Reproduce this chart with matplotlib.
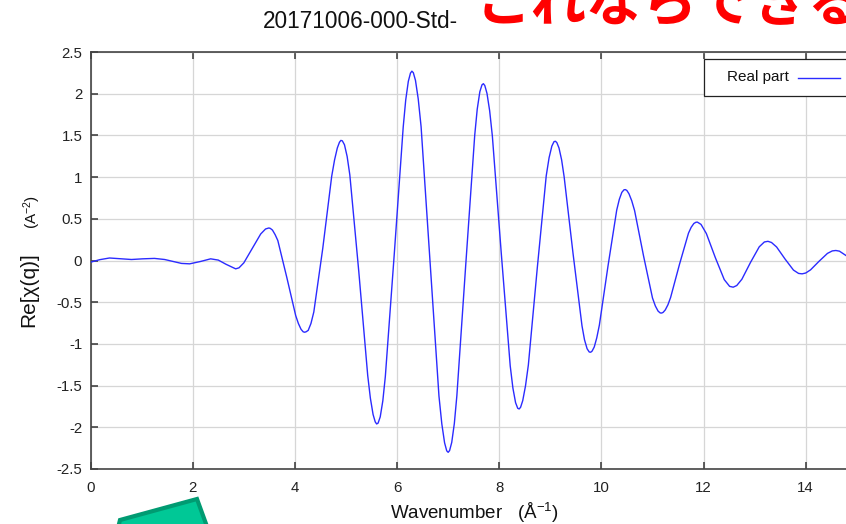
import matplotlib
matplotlib.use("Agg")
import matplotlib.pyplot as plt
from matplotlib.patches import Polygon, Rectangle
from matplotlib.lines import Line2D

# Real part of chi(q) against wavenumber (1/Angstrom)
wavenumber = [
    0.00, 0.18, 0.37, 0.60, 0.80, 1.02, 1.25, 1.45, 1.62, 1.78, 1.94, 2.15,
    2.35, 2.50, 2.65, 2.84,
    2.905, 3.00, 3.165, 3.33, 3.425, 3.49,
    3.518, 3.56, 3.6125, 3.665, 3.84, 4.015, 4.0675, 4.12, 4.162, 4.19,
    4.218, 4.26, 4.314, 4.37, 4.545, 4.72, 4.776, 4.83, 4.872, 4.90,
    4.928, 4.97, 5.0225, 5.075, 5.25, 5.425, 5.4775, 5.53, 5.572, 5.60,
    5.628, 5.67, 5.7208, 5.77, 5.945, 6.12, 6.169, 6.22, 6.262, 6.29,
    6.318, 6.36, 6.414, 6.47, 6.645, 6.82, 6.876, 6.93, 6.972, 7.00,
    7.028, 7.07, 7.121, 7.17, 7.345, 7.52, 7.569, 7.62, 7.662, 7.69,
    7.718, 7.76, 7.8125, 7.865, 8.04, 8.215, 8.2675, 8.32, 8.362, 8.39,
    8.418, 8.46, 8.514, 8.57, 8.745, 8.92, 8.976, 9.03, 9.072, 9.10,
    9.128, 9.17, 9.221, 9.27, 9.445, 9.62, 9.669, 9.72, 9.762, 9.79,
    9.817, 9.86, 9.909, 9.96, 10.13, 10.30, 10.351, 10.40, 10.443, 10.47,
    10.498, 10.54, 10.594, 10.65, 10.825, 11.00, 11.056, 11.11, 11.152, 11.18,
    11.208, 11.25, 11.3025, 11.355, 11.53, 11.705, 11.7575, 11.81, 11.852, 11.88,
    11.95, 12.055, 12.23, 12.405, 12.51, 12.58,
    12.65, 12.75, 12.92, 13.09, 13.19, 13.26,
    13.33, 13.43, 13.595, 13.76, 13.86, 13.93,
    14.00, 14.095, 14.26, 14.425, 14.52, 14.59,
    14.66, 14.80,
]
real_part = [
    -0.02, 0.01, 0.03, 0.02, 0.012, 0.02, 0.025, 0.012, -0.012, -0.035, -0.04, -0.012,
    0.02, 0.005, -0.045, -0.10,
    -0.088, -0.028, 0.145, 0.318, 0.378, 0.39,
    0.385, 0.365, 0.31, 0.24, -0.20, -0.66, -0.755, -0.825, -0.855, -0.86,
    -0.855, -0.838, -0.755, -0.617, 0.145, 1.01, 1.206, 1.349, 1.418, 1.44,
    1.435, 1.388, 1.247, 1.026, -0.13, -1.378, -1.652, -1.846, -1.935, -1.96,
    -1.95, -1.875, -1.683, -1.391, 0.078, 1.60, 1.924, 2.148, 2.247, 2.27,
    2.252, 2.16, 1.937, 1.605, -0.01, -1.626, -1.96, -2.186, -2.282, -2.30,
    -2.279, -2.181, -1.954, -1.624, -0.045, 1.502, 1.814, 2.023, 2.106, 2.12,
    2.097, 2.004, 1.795, 1.494, 0.085, -1.264, -1.53, -1.705, -1.772, -1.78,
    -1.76, -1.68, -1.504, -1.253, -0.088, 1.016, 1.233, 1.372, 1.425, 1.43,
    1.413, 1.349, 1.207, 1.006, 0.083, -0.783, -0.95, -1.058, -1.097, -1.10,
    -1.087, -1.037, -0.928, -0.775, -0.063, 0.605, 0.734, 0.817, 0.848, 0.85,
    0.84, 0.80, 0.716, 0.598, 0.055, -0.449, -0.545, -0.607, -0.629, -0.63,
    -0.622, -0.593, -0.531, -0.443, -0.043, 0.328, 0.398, 0.444, 0.459, 0.46,
    0.433, 0.323, 0.035, -0.229, -0.31, -0.32,
    -0.30, -0.225, -0.022, 0.164, 0.222, 0.23,
    0.216, 0.162, 0.018, -0.115, -0.155, -0.16,
    -0.15, -0.112, -0.01, 0.085, 0.115, 0.12,
    0.112, 0.055,
]

x_ticks = [0, 2, 4, 6, 8, 10, 12, 14]
y_ticks = [-2.5, -2, -1.5, -1, -0.5, 0, 0.5, 1, 1.5, 2, 2.5]
y_tick_labels = ["-2.5", "-2", "-1.5", "-1", "-0.5", "0", "0.5", "1", "1.5", "2", "2.5"]
x_range = (0, 15)
y_range = (-2.5, 2.5)

title_text = "20171006-000-Std-"
note_text = "これならできる"
series_label = "Real part"
x_label = r"Wavenumber   (Å$^{-1}$)"
y_label_main = "Re[χ(q)]"
y_label_unit = r"(A$^{-2}$)"

plt.rcParams["font.family"] = ["Liberation Sans", "DejaVu Sans"]
plt.rcParams["axes.unicode_minus"] = False
plt.rcParams["mathtext.fontset"] = "custom"
plt.rcParams["mathtext.rm"] = "Liberation Sans"
plt.rcParams["mathtext.default"] = "regular"

W, H = 846, 524
fig = plt.figure(figsize=(W / 100, H / 100), dpi=100)


def fx(px):
    return px / W


def fy(py):
    return 1 - py / H


# plot area (pixel frame; the right part runs past the canvas edge)
left_px, right_px, top_px, bottom_px = 90.6, 856.8, 52.0, 469.0
ax = fig.add_axes([fx(left_px), fy(bottom_px),
                   (right_px - left_px) / W, (bottom_px - top_px) / H])

line, = ax.plot(wavenumber, real_part, color="#2b2bff", lw=1.0,
                label=series_label, zorder=3, solid_joinstyle="round")
ax.set_xlim(*x_range)
ax.set_ylim(*y_range)
ax.set_xticks(x_ticks)
ax.set_yticks(y_ticks)
ax.set_yticklabels(y_tick_labels)
ax.grid(True, color="#d6d6d6", lw=0.9)
ax.set_axisbelow(True)
ax.tick_params(direction="in", length=5, width=1.1, color="#333333",
               labelsize=10.8, labelcolor="#222222", top=True, right=True)
ax.tick_params(axis="x", pad=9)
ax.tick_params(axis="y", pad=6)
for s in ax.spines.values():
    s.set_color("#444444")
    s.set_linewidth(1.2)

# axis titles
fig.text(fx(474), fy(513), x_label, ha="center", va="center", fontsize=13.5,
         color="#111111")
fig.text(fx(29), fy(290), y_label_main, rotation=90, ha="center", va="center",
         fontsize=15, color="#111111")
fig.text(fx(32), fy(212), y_label_unit, rotation=90, ha="center", va="center",
         fontsize=11, color="#111111")

# chart title
fig.text(fx(360), fy(22), title_text, ha="center", va="center", fontsize=16.3,
         color="#111111")

# legend box
fig.add_artist(Rectangle((fx(704), fy(96)), fx(900) - fx(704), fy(59) - fy(96),
                         transform=fig.transFigure, facecolor="white",
                         edgecolor="#222222", lw=0.9, zorder=5))
fig.text(fx(727), fy(77.5), series_label, ha="left", va="center", fontsize=11,
         color="#111111", zorder=6)
fig.add_artist(Line2D([fx(798), fx(840)], [fy(77.5), fy(77.5)],
                      transform=fig.transFigure, color=line.get_color(),
                      lw=1.0, zorder=6))

# red note written across the top
fig.text(fx(476), fy(21), note_text, ha="left", va="baseline", fontsize=40,
         color="#ff0000", family=["Noto Sans CJK JP", "DejaVu Sans"],
         fontweight="bold", zorder=7)

# green arrow body at the lower left
arrow_px = [(117, 532), (120, 520), (197, 499), (209, 532)]
fig.add_artist(Polygon([(fx(x), fy(y)) for x, y in arrow_px], closed=True,
                       transform=fig.transFigure, facecolor="#00c896",
                       edgecolor="#009b72", lw=3, joinstyle="miter", zorder=7))

fig.savefig("out.png", dpi=100)
